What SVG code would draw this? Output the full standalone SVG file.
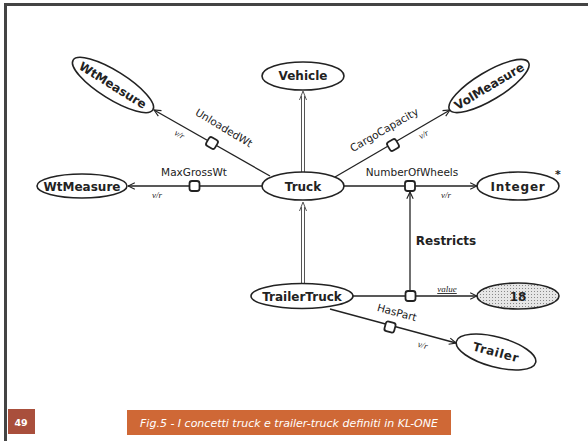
<svg xmlns="http://www.w3.org/2000/svg" width="588" height="441" viewBox="0 0 588 441">
<style>
.node{fill:#fff;stroke:#222;stroke-width:1.6}
.lbl{font-family:"DejaVu Sans",sans-serif;font-weight:bold;font-size:12px;fill:#222;text-anchor:middle}
.role{font-family:"DejaVu Sans",sans-serif;font-size:10.5px;fill:#222;text-anchor:middle}
.vr{font-family:"Liberation Serif",serif;font-style:italic;font-size:9px;fill:#222;text-anchor:middle}
.ln{stroke:#222;stroke-width:1.3;fill:none}
.box{fill:#fff;stroke:#222;stroke-width:1.8}
</style>
<defs>
<marker id="arr" viewBox="0 0 10 10" refX="9.5" refY="5" markerWidth="8" markerHeight="8" markerUnits="userSpaceOnUse" orient="auto">
<path d="M1,1 L9.5,5 L1,9" fill="none" stroke="#222" stroke-width="1.4"/>
</marker>
<pattern id="dots" width="3" height="3" patternUnits="userSpaceOnUse">
<rect width="3" height="3" fill="#e6e6e6"/>
<rect width="1" height="1" fill="#888"/>
</pattern>
</defs>
<rect width="588" height="441" fill="#fff"/>
<!-- frame -->
<line x1="4" y1="4.5" x2="588" y2="4.5" stroke="#444" stroke-width="3"/>
<line x1="5.5" y1="3" x2="5.5" y2="441" stroke="#444" stroke-width="3"/>

<g id="connectors">
<!-- Truck -> Vehicle (double) -->
<line x1="301.5" y1="172" x2="301.5" y2="96" stroke="#555" stroke-width="1"/>
<line x1="304.5" y1="172" x2="304.5" y2="96" stroke="#555" stroke-width="1"/>
<path d="M299.5,100 L303,91 L306.5,100" fill="none" stroke="#555" stroke-width="1"/>
<!-- TrailerTruck -> Truck (double) -->
<line x1="301.5" y1="284" x2="301.5" y2="207" stroke="#555" stroke-width="1"/>
<line x1="304.5" y1="284" x2="304.5" y2="207" stroke="#555" stroke-width="1"/>
<path d="M299.5,211 L303,202 L306.5,211" fill="none" stroke="#555" stroke-width="1"/>
<!-- MaxGrossWt -->
<line class="ln" x1="262" y1="186" x2="128" y2="186" marker-end="url(#arr)"/>
<!-- UnloadedWt -->
<line class="ln" x1="270" y1="176" x2="154" y2="110" marker-end="url(#arr)"/>
<!-- CargoCapacity -->
<line class="ln" x1="335" y1="177" x2="450" y2="110" marker-end="url(#arr)"/>
<!-- NumberOfWheels -->
<line class="ln" x1="344" y1="186" x2="477" y2="186" marker-end="url(#arr)"/>
<!-- value -->
<line class="ln" x1="353" y1="296" x2="477" y2="296" marker-end="url(#arr)"/>
<!-- Restricts -->
<line class="ln" x1="410" y1="290" x2="410" y2="192" marker-end="url(#arr)"/>
<!-- HasPart -->
<line class="ln" x1="330" y1="309" x2="456" y2="343" marker-end="url(#arr)"/>
<!-- role boxes -->
<rect class="box" x="189.5" y="181" width="10" height="10" rx="2.5"/>
<rect class="box" x="405" y="181" width="10" height="10" rx="2.5"/>
<rect class="box" x="405.5" y="291" width="10" height="10" rx="2.5"/>
<rect class="box" x="207" y="138" width="10" height="10" rx="2.5" transform="rotate(30 212 143)"/>
<rect class="box" x="388" y="140" width="10" height="10" rx="2.5" transform="rotate(-30 393 145)"/>
<rect class="box" x="385" y="322" width="10" height="10" rx="2.5" transform="rotate(15 390 327)"/>
<!-- role labels -->
<text class="role" x="194" y="176">MaxGrossWt</text>
<text class="role" x="412" y="176">NumberOfWheels</text>
<text class="role" transform="translate(222,131) rotate(31)">UnloadedWt</text>
<text class="role" transform="translate(386,133) rotate(-30)">CargoCapacity</text>
<text class="role" transform="translate(396,316) rotate(15)">HasPart</text>
<text class="lbl" x="446" y="245">Restricts</text>
<text class="vr" x="447" y="292" style="text-decoration:underline">value</text>
<text class="vr" x="157" y="198">v/r</text>
<text class="vr" x="446" y="198">v/r</text>
<text class="vr" transform="translate(178,137) rotate(31)">v/r</text>
<text class="vr" transform="translate(425,137) rotate(-30)">v/r</text>
<text class="vr" transform="translate(422,348) rotate(15)">v/r</text>
</g>

<g id="vehicle"><ellipse class="node" cx="303" cy="76" rx="41" ry="14"/><text class="lbl" x="303" y="80">Vehicle</text></g>
<g id="truck"><ellipse class="node" cx="303" cy="186" rx="41" ry="14"/><text class="lbl" x="303" y="190.5">Truck</text></g>
<g id="trailertruck"><ellipse class="node" cx="302" cy="296" rx="51" ry="12.5"/><text class="lbl" x="302" y="300.5">TrailerTruck</text></g>
<g id="wtmeasure-left"><ellipse class="node" cx="82" cy="186" rx="45" ry="12"/><text class="lbl" x="82" y="190.5">WtMeasure</text></g>
<g id="wtmeasure-top" transform="translate(113,85) rotate(32)"><ellipse class="node" cx="0" cy="0" rx="47" ry="14"/><text class="lbl" x="0" y="4.5">WtMeasure</text></g>
<g id="volmeasure" transform="translate(489,86) rotate(-31)"><ellipse class="node" cx="0" cy="0" rx="46" ry="14"/><text class="lbl" x="0" y="4.5">VolMeasure</text></g>
<g id="integer"><ellipse class="node" cx="518" cy="186" rx="41" ry="14"/><text class="lbl" x="518" y="190.5" letter-spacing="0.8">Integer</text><text class="role" x="558" y="178" style="font-size:11px;font-weight:bold">*</text></g>
<g id="value18"><ellipse class="node" cx="518" cy="296" rx="41" ry="13" style="fill:url(#dots)"/><text class="lbl" x="518" y="300.5">18</text></g>
<g id="trailer" transform="translate(496,352) rotate(15)"><ellipse class="node" cx="0" cy="0" rx="41" ry="15"/><text class="lbl" x="0" y="4.5" letter-spacing="0.6">Trailer</text></g>

<g id="footer">
<rect x="8" y="409" width="27" height="25" fill="#a94f3c"/>
<text x="21" y="426" font-family="DejaVu Sans,sans-serif" font-weight="bold" font-size="9.5" fill="#fff" text-anchor="middle">49</text>
<rect x="127" y="410" width="324" height="25" fill="#cf6836"/>
<text x="289" y="427" font-family="DejaVu Sans,sans-serif" font-style="italic" font-size="11" fill="#fff" text-anchor="middle">Fig.5 - I concetti truck e trailer-truck definiti in KL-ONE</text>
</g>
</svg>
